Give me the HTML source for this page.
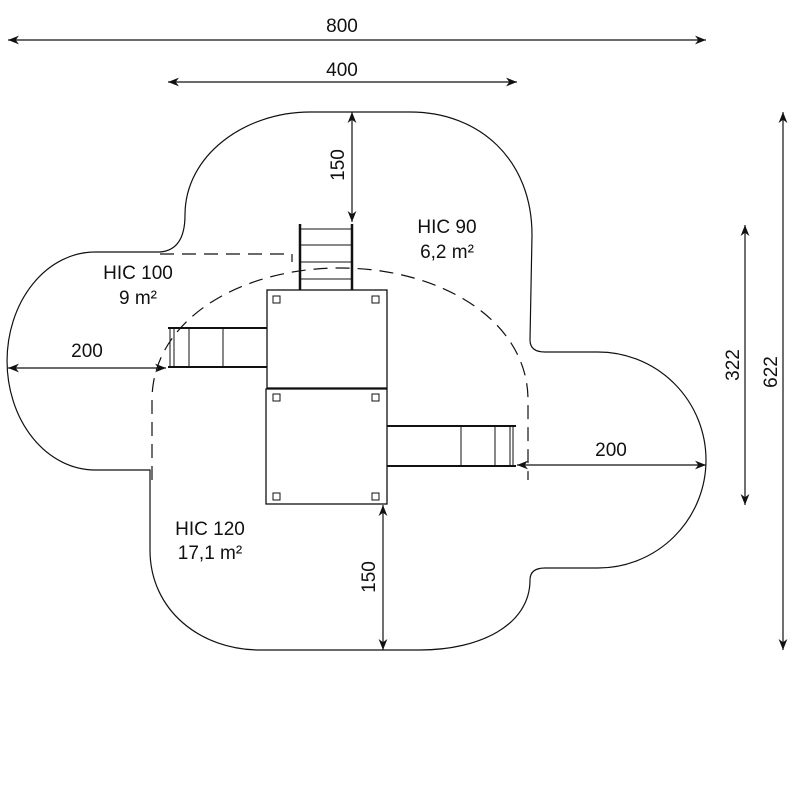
<!DOCTYPE html>
<html><head><style>body{margin:0;background:#fff}svg{display:block}text{font-family:"Liberation Sans",sans-serif;font-size:19px;fill:#111;text-anchor:middle}</style></head><body>
<svg width="800" height="800" viewBox="0 0 800 800">
<defs><marker id="a" viewBox="0 0 10 10" refX="10" refY="5" markerWidth="11" markerHeight="11" markerUnits="userSpaceOnUse" orient="auto-start-reverse"><path d="M0,1 L10,5 L0,9 L3,5z" fill="#111"/></marker></defs>
<g fill="none" stroke="#111" stroke-width="1.2">
<path d="M185,215 C185,155 245,112 310,112 L410,112 C480,112 532,160 532,235 L530,340 Q530,352 545,352 L598,352 A108,108 0 0 1 598,568 L545,568 Q530,568 530,580 C530,625 480,650 420,650 L260,650 C200,650 150,610 150,550 L150,470 L95,470 A88,109 0 0 1 95,252 L160,252 Q185,250 185,215 Z"/>
<path d="M152,480 L152,400 C152,320 240,268 340,268 C440,268 528,320 528,400 L528,480" stroke-dasharray="14,8"/>
<path d="M160,254 L292,254 L292,262" stroke-dasharray="14,8"/>
</g>
<g stroke="#111" fill="none">
<line x1="300" y1="224" x2="300" y2="290" stroke-width="2.5"/>
<line x1="352" y1="224" x2="352" y2="290" stroke-width="2.5"/>
<g stroke-width="1"><line x1="300" y1="229" x2="352" y2="229"/><line x1="300" y1="245" x2="352" y2="245"/><line x1="300" y1="262" x2="352" y2="262"/><line x1="300" y1="279" x2="352" y2="279"/></g>
<line x1="168" y1="328" x2="267" y2="328" stroke-width="2"/>
<line x1="168" y1="367" x2="267" y2="367" stroke-width="2"/>
<g stroke-width="1"><line x1="170" y1="328" x2="170" y2="367"/><line x1="174" y1="328" x2="174" y2="367"/><line x1="189" y1="328" x2="189" y2="367"/><line x1="223" y1="328" x2="223" y2="367"/></g>
<line x1="387" y1="426" x2="516" y2="426" stroke-width="2"/>
<line x1="387" y1="466" x2="516" y2="466" stroke-width="2"/>
<g stroke-width="1"><line x1="461" y1="426" x2="461" y2="466"/><line x1="495" y1="426" x2="495" y2="466"/><line x1="510" y1="426" x2="510" y2="466"/><line x1="513" y1="426" x2="513" y2="466"/></g>
<rect x="267" y="290" width="120" height="98" fill="#fff" stroke-width="1.3"/>
<rect x="266" y="389" width="121" height="115" fill="#fff" stroke-width="1.3"/>
<g stroke-width="1"><rect x="273" y="296" width="7" height="7"/><rect x="372" y="296" width="7" height="7"/><rect x="273" y="394" width="7" height="7"/><rect x="372" y="394" width="7" height="7"/><rect x="273" y="493" width="7" height="7"/><rect x="372" y="493" width="7" height="7"/></g>
</g>
<g fill="none" stroke="#111" stroke-width="1.2" marker-start="url(#a)" marker-end="url(#a)">
<line x1="8" y1="40" x2="706" y2="40"/>
<line x1="168" y1="82" x2="517" y2="82"/>
<line x1="352" y1="112" x2="352" y2="222"/>
<line x1="783" y1="112" x2="783" y2="650"/>
<line x1="745" y1="225" x2="745" y2="505"/>
<line x1="8" y1="368" x2="166" y2="368"/>
<line x1="517" y1="465" x2="706" y2="465"/>
<line x1="383" y1="505" x2="383" y2="650"/>
</g>
<text x="342" y="32">800</text>
<text x="342" y="76">400</text>
<text x="87" y="357">200</text>
<text x="611" y="456">200</text>
<text transform="translate(344,165) rotate(-90)">150</text>
<text transform="translate(375,577) rotate(-90)">150</text>
<text transform="translate(739,365) rotate(-90)">322</text>
<text transform="translate(777,372) rotate(-90)">622</text>
<text x="138" y="279">HIC 100</text>
<text x="138" y="304">9 m²</text>
<text x="447" y="233">HIC 90</text>
<text x="447" y="258">6,2 m²</text>
<text x="210" y="535">HIC 120</text>
<text x="210" y="559">17,1 m²</text>
</svg>
</body></html>
